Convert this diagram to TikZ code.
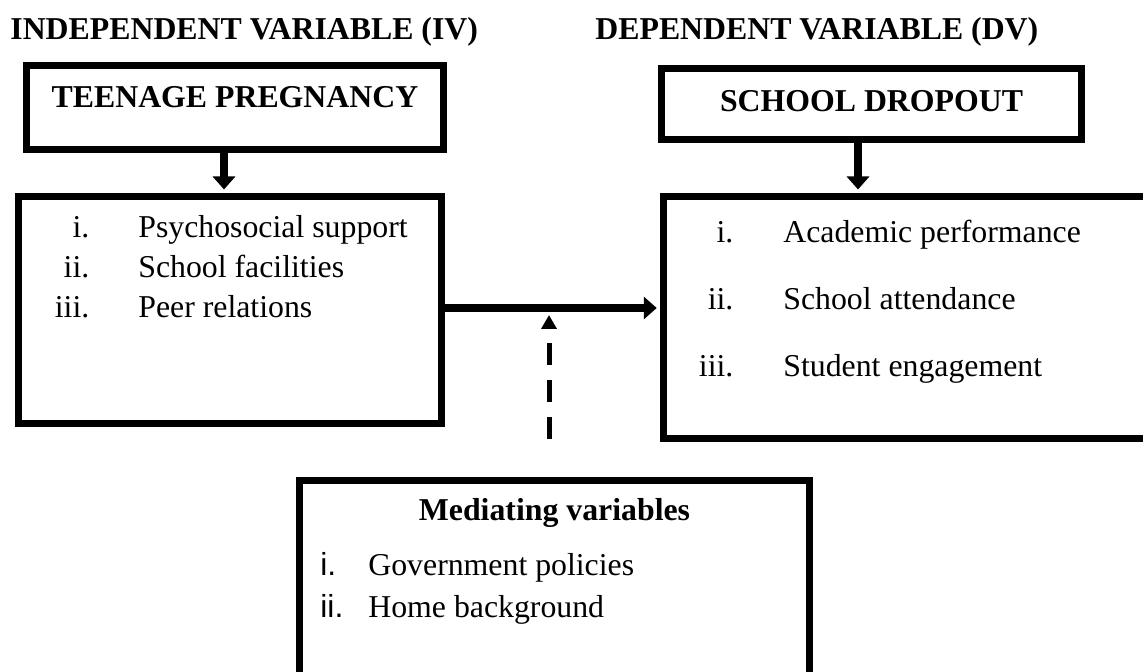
\documentclass[tikz,border=0pt]{standalone}
\usepackage{fontspec}
\setmainfont{Liberation Serif}
\newfontfamily\arialfont{Liberation Sans}
\usetikzlibrary{arrows.meta}

\begin{document}
\begin{tikzpicture}[
    x = 0.5pt, y = -0.5pt,
    every node/.style = {inner sep = 0pt, font = \fontsize{15.9}{20}\selectfont},
    heading/.style = {anchor = base west, font = \fontsize{15.9}{20}\selectfont\bfseries},
    headbox/.style = {draw, line width = 3.5pt, anchor = base,
      font = \fontsize{15.9}{20}\selectfont\bfseries},
    listbox/.style = {draw, line width = 3.5pt},
    flow/.style = {line width = 4pt, shorten > = 1.75pt,
      -{Triangle[width = 11pt, length = 6.5pt]}},
    mediate/.style = {line width = 2.5pt, dash pattern = on 11pt off 7.5pt,
      -{Triangle[width = 7.5pt, length = 7pt]}}
  ]
  \clip (0,0) rectangle (1143,672);
  % headings
  \node[heading] (ivtitle) at (10,40) {INDEPENDENT VARIABLE (IV)};
  \node[heading] (dvtitle) at (595,40) {DEPENDENT VARIABLE (DV)};
  % variable boxes
  \node[headbox, minimum width = 208.5pt, text height = 21.25pt,
    text depth = 20.75pt] (preg) at (235,108) {TEENAGE PREGNANCY};
  \node[headbox, minimum width = 210pt, text height = 21.75pt,
    text depth = 13.75pt] (drop) at (871.5,112) {SCHOOL DROPOUT};
  % indicator boxes
  \node[listbox, minimum width = 211.5pt, minimum height = 113.5pt] (ivbox) at (230,310) {};
  \node[listbox, minimum width = 253pt, minimum height = 121pt] (dvbox) at (916.75,317.5) {};
  \node[headbox, minimum width = 255pt, text height = 19.75pt,
    text depth = 100pt] (med) at (554.5,520) {Mediating variables};
  % lists
  \node[anchor = base west] (ivlist) at (54.5,238) {%
    \begin{tabular}[t]{@{}r@{\hspace{24.5pt}}l@{}}
      i.   & Psychosocial support\\
      ii.  & School facilities\\
      iii. & Peer relations
    \end{tabular}};
  \node[anchor = base west, font = \fontsize{15.9}{33.5}\selectfont] (dvlist) at (698.5,243) {%
    \begin{tabular}[t]{@{}r@{\hspace{25pt}}l@{}}
      i.   & Academic performance\\
      ii.  & School attendance\\
      iii. & Student engagement
    \end{tabular}};
  \node[anchor = base west, font = \fontsize{15.9}{21}\selectfont] (medlist) at (320,575) {%
    \begin{tabular}[t]{@{}l@{\hspace{12.5pt}}l@{}}
      {\arialfont i.}  & Government policies\\
      {\arialfont ii.} & Home background
    \end{tabular}};
  % connectors
  \coordinate (pregx) at (224,0);
  \coordinate (dropx) at (858,0);
  \coordinate (linky) at (0,308);
  \coordinate (medtail) at (549,439);
  \coordinate (medtip) at (549,315);
  \draw[flow] (preg.south -| pregx) -- (ivbox.north -| pregx);
  \draw[flow] (drop.south -| dropx) -- (dvbox.north -| dropx);
  \draw[flow] (ivbox.east |- linky) -- (dvbox.west |- linky);
  \draw[mediate] (medtail) -- (medtip);
\end{tikzpicture}
\end{document}
